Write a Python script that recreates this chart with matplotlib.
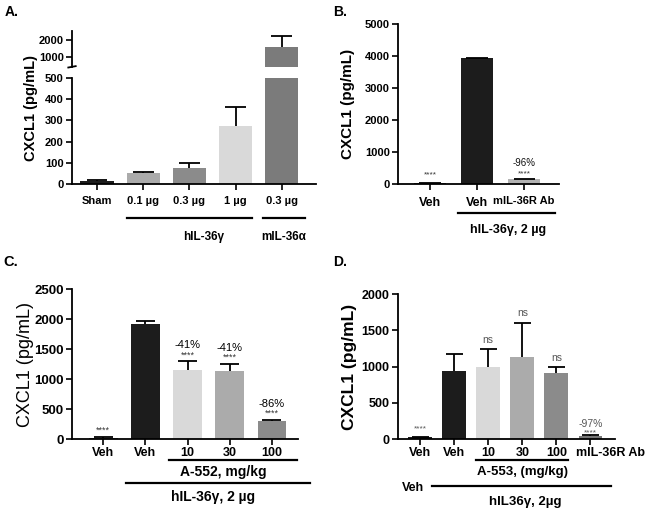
import numpy as np
import matplotlib
matplotlib.use('Agg')
import matplotlib.pyplot as plt
from matplotlib.transforms import blended_transform_factory, ScaledTranslation

plt.rcParams['font.family'] = ['Liberation Sans', 'DejaVu Sans']
plt.rcParams['font.weight'] = 'bold'

# ---- data ----
a_labels = ['Sham', '0.1 µg', '0.3 µg', '1 µg', '0.3 µg']
a_means = [15, 52, 74, 273, 1600]
a_err = [5, 5, 23, 92, 650]
a_colors = ['#1c1c1c', '#ababab', '#8b8b8b', '#d9d9d9', '#7b7b7b']

b_labels = ['Veh', 'Veh', 'mIL-36R Ab']
b_means = [30, 3930, 150]
b_err = [5, 20, 15]
b_colors = ['#333333', '#1c1c1c', '#b3b3b3']

c_labels = ['Veh', 'Veh', '10', '30', '100']
c_means = [20, 1910, 1144, 1140, 294]
c_err = [10, 65, 150, 110, 28]
c_colors = ['#555555', '#1c1c1c', '#d9d9d9', '#ababab', '#8b8b8b']
c_pct = ['', '', '-41%', '-41%', '-86%']
c_stars = ['****', '', '****', '****', '****']

d_labels = ['Veh', 'Veh', '10', '30', '100', 'mIL-36R Ab']
d_means = [27, 936, 995, 1128, 913, 46]
d_err = [5, 243, 248, 478, 78, 10]
d_colors = ['#1c1c1c', '#1c1c1c', '#d9d9d9', '#ababab', '#8b8b8b', '#777777']
d_top = ['****', '', 'ns', 'ns', 'ns', '-97%']

W, H = 660, 511
fig = plt.figure(figsize=(W / 100, H / 100), dpi=100)


def box(l, t, r, b):
    return [l / W, 1 - b / H, (r - l) / W, (b - t) / H]


def fy(y):
    return 1 - y / H


def style(ax, fs, pad=2, length=4):
    for s in ['top', 'right']:
        ax.spines[s].set_visible(False)
    for s in ['left', 'bottom']:
        ax.spines[s].set_linewidth(1.3)
    ax.tick_params(direction='out', length=length, width=1.2, labelsize=fs, pad=2)
    ax.tick_params(axis='x', pad=pad)


def bars(ax, means, err, colors, width, cap):
    x = np.arange(len(means))
    ax.bar(x, means, width=width, color=colors, zorder=2)
    m = np.array(means)
    e = np.array(err)
    ax.vlines(x, m, m + e, color='k', lw=1.3, zorder=3)
    ax.hlines(m + e, x - cap / 2, x + cap / 2, color='k', lw=1.3, zorder=3)
    return x


def group_line(ax, x0, x1, ypix, label=None, lypix=None, fs=9, lx=None):
    tr = blended_transform_factory(ax.transData, fig.transFigure)
    ax.plot([x0, x1], [fy(ypix), fy(ypix)], color='k', lw=1.6, transform=tr, clip_on=False)
    if label:
        cx = (x0 + x1) / 2 if lx is None else lx
        ax.text(cx, fy(lypix), label, transform=tr, ha='center', va='center', fontsize=fs,
                fontweight='bold')


# ---------- A ----------
axA = fig.add_axes(box(72, 78, 316, 184))
axA_up = fig.add_axes(box(72, 31, 316, 67))
xa = bars(axA, a_means, a_err, a_colors, 0.72, 0.45)
bars(axA_up, a_means, a_err, a_colors, 0.72, 0.45)
for ax in (axA, axA_up):
    style(ax, 8, pad=5)
    ax.set_xlim(-0.54, 4.74)
axA.set_ylim(0, 500)
axA.set_yticks([0, 100, 200, 300, 400, 500])
axA.set_xticks(xa)
axA.set_xticklabels(a_labels)
axA_up.set_ylim(410, 2530)
axA_up.set_yticks([1000, 2000])
axA_up.spines['bottom'].set_visible(False)
axA_up.set_xticks([])
axA_up.patch.set_alpha(0)
# break mark on upper axis
axA_up.plot([-0.62, -0.46], [380, 460], color='k', lw=1.3, clip_on=False)
axA.set_ylabel('CXCL1 (pg/mL)', fontsize=10.5, fontweight='bold')
axA.yaxis.set_label_coords(-0.14, 0.72)
group_line(axA, 0.64, 3.36, 218, 'hIL-36γ', 237, 8.5, lx=2.3)
group_line(axA, 3.6, 4.5, 218, 'mIL-36α', 237, 8.5, lx=4.05)
fig.text(5 / W, fy(12), 'A.', fontsize=10, fontweight='bold', va='center')

# ---------- B ----------
axB = fig.add_axes(box(398, 24, 559, 184))
xb = bars(axB, b_means, b_err, b_colors, 0.68, 0.45)
style(axB, 8, pad=5)
axB.set_xlim(-0.68, 2.74)
axB.set_ylim(0, 5000)
axB.set_yticks(range(0, 5001, 1000))
axB.set_xticks(xb)
axB.set_xticklabels(b_labels)
for lab in axB.get_xticklabels()[:2]:
    lab.set_fontsize(9)
axB.set_ylabel('CXCL1 (pg/mL)', fontsize=11, fontweight='bold')
axB.yaxis.set_label_coords(-0.27, 0.5)
axB.annotate('****', (0, b_means[0] + b_err[0]), xytext=(0, 3), textcoords='offset points',
             ha='center', va='bottom', fontsize=6, fontweight='normal', color='#333333')
axB.annotate('****', (2, b_means[2] + b_err[2]), xytext=(0, 1), textcoords='offset points',
             ha='center', va='bottom', fontsize=6, fontweight='normal', color='#333333')
axB.annotate('-96%', (2, b_means[2] + b_err[2]), xytext=(0, 8), textcoords='offset points',
             ha='center', va='bottom', fontsize=7, fontweight='normal', color='#111111')
group_line(axB, 0.6, 2.65, 213, 'hIL-36γ, 2 µg', 230, 9, lx=1.65)
fig.text(333 / W, fy(12), 'B.', fontsize=10, fontweight='bold', va='center')

# ---------- C ----------
axC = fig.add_axes(box(72, 289, 298, 439))
xc = bars(axC, c_means, c_err, c_colors, 0.68, 0.45)
style(axC, 9.5)
axC.set_xlim(-0.74, 4.62)
axC.set_ylim(0, 2500)
axC.set_yticks(range(0, 2501, 500))
axC.set_xticks(xc)
axC.set_xticklabels(c_labels)
for lab in axC.get_xticklabels():
    lab.set_fontsize(9)
axC.set_ylabel('CXCL1 (pg/mL)', fontsize=13, fontweight='normal')
axC.yaxis.set_label_coords(-0.17, 0.5)
for i in range(len(c_means)):
    top = max(c_means[i] + c_err[i], 1250 if i in (2, 3) else 0)
    if c_stars[i]:
        axC.annotate(c_stars[i], (i, top), xytext=(0, 1.5), textcoords='offset points',
                     ha='center', va='bottom', fontsize=6.5, fontweight='normal',
                     color='#333333')
    if c_pct[i]:
        axC.annotate(c_pct[i], (i, top), xytext=(0, 8), textcoords='offset points',
                     ha='center', va='bottom', fontsize=8, fontweight='normal')
group_line(axC, 1.55, 4.6, 460, 'A-552, mg/kg', 472, 10, lx=2.85)
group_line(axC, 0.55, 4.9, 483, 'hIL-36γ, 2 µg', 497, 10, lx=2.6)
fig.text(3 / W, fy(262), 'C.', fontsize=10.5, fontweight='bold', va='center')

# ---------- D ----------
axD = fig.add_axes(box(398, 294, 615, 439))
xd = bars(axD, d_means, d_err, d_colors, 0.7, 0.5)
style(axD, 9)
axD.set_xlim(-0.65, 5.72)
axD.set_ylim(0, 2000)
axD.set_yticks(range(0, 2001, 500))
axD.set_xticks(xd)
axD.set_xticklabels(d_labels)
for lab in axD.get_xticklabels():
    lab.set_fontsize(9)
last = axD.get_xticklabels()[-1]
last.set_transform(last.get_transform() + ScaledTranslation(0.2, 0, fig.dpi_scale_trans))
axD.set_ylabel('CXCL1 (pg/mL)', fontsize=12.5, fontweight='bold')
axD.yaxis.set_label_coords(-0.19, 0.5)
for i, t in enumerate(d_top):
    if not t:
        continue
    top = d_means[i] + d_err[i]
    if t == '-97%':
        axD.annotate('****', (i, top), xytext=(0, -1), textcoords='offset points',
                     ha='center', va='bottom', fontsize=6, fontweight='normal', color='#555555')
        axD.annotate(t, (i, top), xytext=(0, 4.5), textcoords='offset points',
                     ha='center', va='bottom', fontsize=7.5, fontweight='normal', color='#555555')
    elif t == '****':
        axD.annotate(t, (i, top), xytext=(0, 3), textcoords='offset points',
                     ha='center', va='bottom', fontsize=6, fontweight='normal', color='#555555')
    else:
        axD.annotate(t, (i, top), xytext=(0, 3), textcoords='offset points',
                     ha='center', va='bottom', fontsize=7.5, fontweight='normal', color='#555555')
group_line(axD, 1.65, 4.35, 460, 'A-553, (mg/kg)', 472, 9.5, lx=3.0)
group_line(axD, 0.35, 5.6, 486, 'hIL36γ, 2µg', 502, 9.5, lx=3.1)
axD.text(-0.2, fy(488), 'Veh', transform=blended_transform_factory(axD.transData, fig.transFigure),
         ha='center', va='center', fontsize=9, fontweight='bold')
fig.text(333 / W, fy(262), 'D.', fontsize=10, fontweight='bold', va='center')

fig.savefig('out.png', dpi=100)
